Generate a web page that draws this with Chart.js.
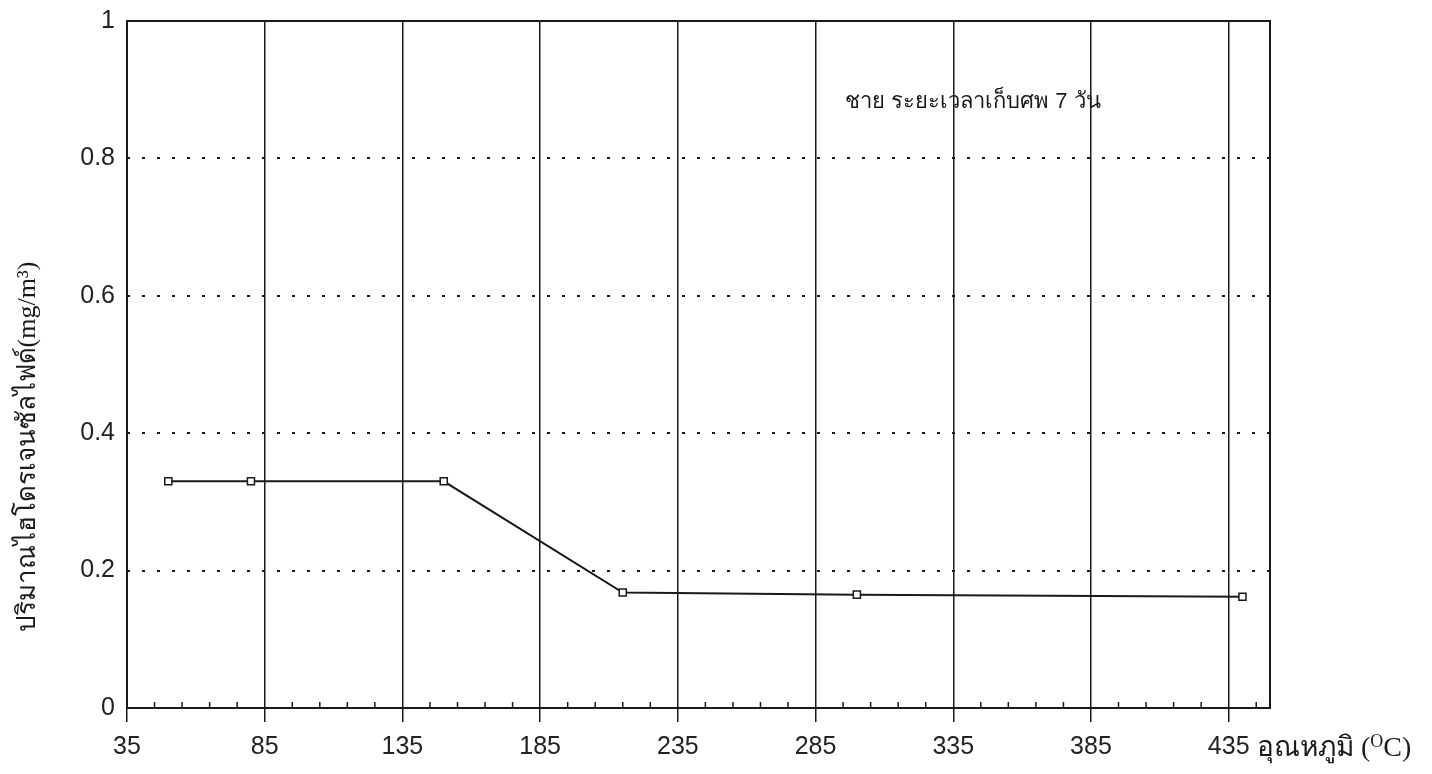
<!DOCTYPE html>
<html>
<head>
<meta charset="utf-8">
<script src="https://cdn.jsdelivr.net/npm/chart.js@4"></script>
<style>
  html, body { margin: 0; padding: 0; background: #fff; }
  #wrap { width: 1432px; height: 774px; }
</style>
</head>
<body>
<div id="wrap"><canvas id="chart"></canvas></div>
<script>
// data
const temps = [50, 80, 150, 215, 300, 440];
const h2sLevels = [0.33, 0.33, 0.33, 0.168, 0.165, 0.162];
const xMajorTicks = [35, 85, 135, 185, 235, 285, 335, 385, 435];
const xMinorTicks = [45, 55, 65, 75, 95, 105, 115, 125, 145, 155, 165, 175, 195, 205, 215, 225,
    245, 255, 265, 275, 295, 305, 315, 325, 345, 355, 365, 375, 395, 405, 415, 425, 445];
const yTicks = [0, 0.2, 0.4, 0.6, 0.8, 1];
const yTitle = 'ปริมาณไฮโดรเจนซัลไฟด์(mg/m³)';
const xTitle = 'อุณหภูมิ (';
const noteText = 'ชาย ระยะเวลาเก็บศพ 7 วัน';

const ink = '#1a1a1a';

// frame, minor ticks and the free-standing texts
const extras = {
    id: 'extras',
    beforeDatasetsDraw(chart) {
        const { ctx, chartArea: a, scales } = chart;
        ctx.save();
        ctx.strokeStyle = ink;
        ctx.lineWidth = 1.5;
        xMinorTicks.forEach(v => {
            const px = scales.x.getPixelForValue(v);
            if (px > a.right) return;
            ctx.beginPath();
            ctx.moveTo(px, a.bottom);
            ctx.lineTo(px, a.bottom - 6);
            ctx.stroke();
        });
        ctx.lineWidth = 2;
        ctx.strokeRect(a.left, a.top, a.right - a.left, a.bottom - a.top);
        ctx.restore();
    },
    afterDraw(chart) {
        const { ctx } = chart;
        ctx.save();
        ctx.fillStyle = ink;

        // y axis title
        ctx.translate(28, 447);
        ctx.rotate(-Math.PI / 2);
        ctx.font = '26px "Liberation Serif", serif';
        ctx.textAlign = 'center';
        ctx.textBaseline = 'middle';
        ctx.fillText(yTitle, 0, 0);
        ctx.setTransform(1, 0, 0, 1, 0, 0);

        // x axis title, with raised O
        ctx.textAlign = 'left';
        ctx.textBaseline = 'alphabetic';
        ctx.font = '28px "Liberation Serif", serif';
        let x = 1257;
        const y = 756;
        ctx.fillText(xTitle, x, y);
        x += ctx.measureText(xTitle).width;
        ctx.font = '18px "Liberation Serif", serif';
        ctx.fillText('O', x, y - 9);
        x += ctx.measureText('O').width;
        ctx.font = '28px "Liberation Serif", serif';
        ctx.fillText('C)', x, y);

        // note inside the plot
        ctx.font = '500 22px "Liberation Sans", sans-serif';
        ctx.fillText(noteText, 845, 108);
        ctx.restore();
    }
};

const ctx = document.getElementById('chart').getContext('2d');
new Chart(ctx, {
    type: 'line',
    data: {
        datasets: [{
            data: temps.map((t, i) => ({ x: t, y: h2sLevels[i] })),
            borderColor: ink,
            borderWidth: 2,
            tension: 0,
            pointStyle: 'rect',
            pointRadius: 5,
            pointBackgroundColor: '#fff',
            pointBorderColor: ink,
            pointBorderWidth: 1.5
        }]
    },
    options: {
        responsive: true,
        maintainAspectRatio: false,
        animation: false,
        layout: { padding: { top: 21, right: 162, bottom: 0, left: 0 } },
        plugins: { legend: { display: false }, tooltip: { enabled: false } },
        scales: {
            x: {
                type: 'linear',
                min: 35,
                max: 450,
                afterBuildTicks: s => { s.ticks = xMajorTicks.map(v => ({ value: v })); },
                afterFit: s => { s.height = 66; s.paddingLeft = 0; s.paddingRight = 0; },
                grid: { color: ink, lineWidth: 1.5, tickLength: 14, tickColor: ink, tickWidth: 1.5 },
                border: { display: false },
                ticks: {
                    color: '#222',
                    font: { family: '"Liberation Sans", Arial, sans-serif', size: 25 },
                    padding: 10,
                    maxRotation: 0,
                    autoSkip: false
                }
            },
            y: {
                min: 0,
                max: 1,
                afterBuildTicks: s => { s.ticks = yTicks.map(v => ({ value: v })); },
                afterFit: s => { s.width = 127; s.paddingTop = 0; s.paddingBottom = 0; },
                grid: { color: ink, lineWidth: 2, drawTicks: false },
                border: { display: false, dash: [3, 12] },
                ticks: {
                    color: '#222',
                    font: { family: '"Liberation Sans", Arial, sans-serif', size: 25 },
                    padding: 12,
                    callback: v => String(Math.round(v * 10) / 10)
                }
            }
        }
    },
    plugins: [extras]
});
</script>
</body>
</html>
